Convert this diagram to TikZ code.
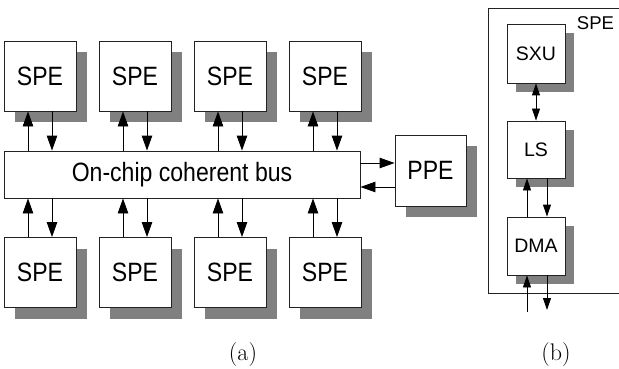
\documentclass[tikz,border=0pt]{standalone}
\usepackage{fontspec}
\newfontfamily\labA[FakeStretch=0.87]{Liberation Sans}
\newfontfamily\labB{Liberation Sans}
\usetikzlibrary{arrows.meta}
\definecolor{shadowc}{HTML}{808080}
\definecolor{edgec}{HTML}{222222}
\begin{document}
\begin{tikzpicture}[x=1pt,y=-1pt,
  box/.style={draw=edgec, line width=0.9pt, fill=white, inner sep=0pt,
    minimum width=72pt, minimum height=70pt,
    font=\labA\fontsize{26.5}{30}\selectfont,
    preaction={fill=shadowc, transform canvas={shift={(11pt,-11pt)}}}},
  busbox/.style={draw=edgec, line width=0.9pt, fill=white, inner sep=0pt,
    minimum width=356pt, minimum height=47pt,
    font=\labA\fontsize{26.5}{30}\selectfont},
  sbox/.style={draw=edgec, line width=0.9pt, fill=white, inner sep=0pt,
    minimum width=58pt, minimum height=58pt,
    font=\labB\fontsize{19.5}{22}\selectfont,
    preaction={fill=shadowc, transform canvas={shift={(9pt,-9pt)}}}},
  arr/.style={-{Triangle[length=15pt,width=10.5pt]}, line width=0.9pt},
  arrb/.style={-{Triangle[length=12pt,width=8pt]}, line width=0.9pt},
  captext/.style={font=\fontsize{24}{28}\selectfont, anchor=base, inner sep=0pt}]
\useasboundingbox (0,0) rectangle (619,369);

% (a)
\node[busbox] (bus) at (182,174.5) {On-chip coherent bus};
\foreach \i/\x in {1/40,2/135,3/230,4/325}{
  \node[box] (t\i) at (\x,76) {SPE};
  \node[box] (b\i) at (\x,272.5) {SPE};
  \draw[arr] ([xshift=-12pt]t\i.south |- bus.north) -- ([xshift=-12pt]t\i.south);
  \draw[arr] ([xshift=12pt]t\i.south) -- ([xshift=12pt]t\i.south |- bus.north);
  \draw[arr] ([xshift=-12pt]b\i.north) -- ([xshift=-12pt]b\i.north |- bus.south);
  \draw[arr] ([xshift=12pt]b\i.north |- bus.south) -- ([xshift=12pt]b\i.north);
}
\node[box, minimum width=71pt, minimum height=71pt] (ppe) at (430.5,170.5) {PPE};
\draw[arr] ([yshift=7.5pt]ppe.west -| bus.east) -- ([yshift=7.5pt]ppe.west);
\draw[arr] ([yshift=-16.5pt]ppe.west) -- ([yshift=-16.5pt]ppe.west -| bus.east);
\node[captext] (capa) at (243,360) {(a)};

% (b)
\coordinate (f1) at (619,8);
\coordinate (f2) at (488,8);
\coordinate (f3) at (488,293);
\coordinate (f4) at (619,293);
\draw[edgec, line width=0.9pt] (f1) -- (f2) -- (f3) -- (f4);
\node[font=\labB\fontsize{18.5}{21}\selectfont, anchor=base, inner sep=0pt] (spelab) at (595.5,30) {SPE};
\node[sbox, minimum height=59pt] (sxu) at (536,53.5) {SXU};
\node[sbox, minimum height=57pt] (ls) at (536,149.5) {LS};
\node[sbox] (dma) at (536,246) {DMA};
\draw[{Triangle[length=12pt,width=8pt]}-{Triangle[length=12pt,width=8pt]}, line width=0.9pt] (sxu.south) -- (ls.north);
\draw[arrb] ([xshift=-9pt]dma.north) -- ([xshift=-9pt]ls.south);
\draw[arrb] ([xshift=11pt]ls.south) -- ([xshift=11pt]dma.north);
\coordinate (din) at (527,312);
\coordinate (dout) at (547,310);
\draw[arrb] (din) -- (din |- dma.south);
\draw[arrb] (dout |- dma.south) -- (dout);
\node[captext] (capb) at (556,360) {(b)};
\end{tikzpicture}
\end{document}
